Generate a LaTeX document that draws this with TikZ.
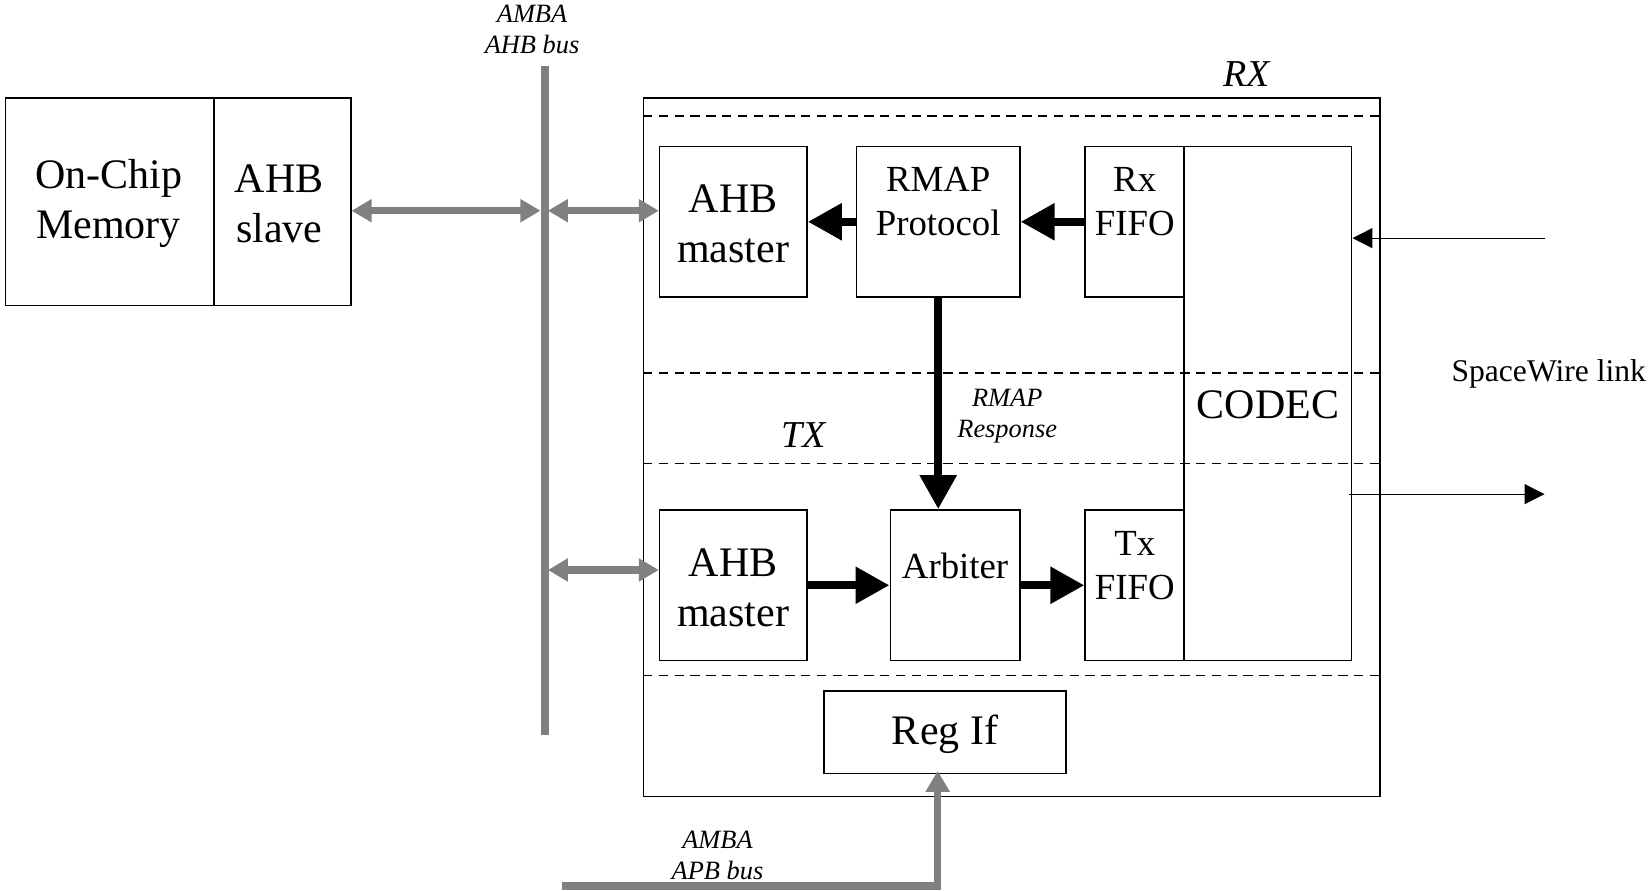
\documentclass[tikz,border=0pt]{standalone}
\usepackage{fontspec}
\setmainfont{Liberation Serif}
\usetikzlibrary{arrows.meta,fit,calc}
\definecolor{busgray}{RGB}{128,128,128}
\begin{document}
\begin{tikzpicture}[x=0.5268pt,y=-0.5268pt,
  box/.style={draw, line width=0.75pt, inner sep=0pt},
  bigtxt/.style={font=\fontsize{21}{25}\selectfont, align=center},
  midtxt/.style={font=\fontsize{18.4}{22}\selectfont, align=center},
  smallit/.style={font=\fontsize{13.2}{15.8}\selectfont\itshape, align=center},
  rxtx/.style={font=\fontsize{19}{22}\selectfont\itshape},
  sepline/.style={dash pattern=on 4.7pt off 3.2pt, line width=0.7pt},
  blackarrow/.style={line width=4.2pt, -{Triangle[length=17pt,width=17.5pt]}},
  graydbl/.style={draw=busgray, line width=3.7pt, {Triangle[length=10pt,width=11pt]}-{Triangle[length=10pt,width=11pt]}},
  grayarrow/.style={draw=busgray, line width=3.7pt, -{Triangle[length=10.5pt,width=11.6pt]}},
  thinarrow/.style={line width=0.6pt, -{Triangle[length=10pt,width=10pt]}},
]
\useasboundingbox (0,0) rectangle (1568,845);

% left memory block
\node[box, fit={(5,93)(203,290)}] (ocm) {};
\node[box, fit={(203,93)(333,290)}] (slave) {};
\node[bigtxt] at ($(ocm.center)+(-1,2)$) {On-Chip\\Memory};
\node[bigtxt] at ($(slave.center)+(-3,2)$) {AHB\\slave};

% AHB bus
\coordinate (busT) at (517,63);
\coordinate (busB) at (517,698);
\draw[busgray, line width=3.9pt] (busT) -- (busB);
\node[smallit] at (505,28) {AMBA\\AHB bus};

% main block
\node[box, fit={(611,93)(1310,756)}] (spw) {};
\node[rxtx] at (1183,70) {RX};
\node[rxtx] at (763,413) {TX};

\draw[sepline] (spw.west |- 0,110) -- (spw.east |- 0,110);
\draw[sepline] (spw.west |- 0,354) -- (spw.east |- 0,354);
\draw[sepline] (spw.west |- 0,440) -- (spw.east |- 0,440);
\draw[sepline] (spw.west |- 0,641) -- (spw.east |- 0,641);

% inner blocks
\node[box, fit={(626,139)(766,282)}] (ahbm1) {};
\node[box, fit={(813,139)(968,282)}] (rmap) {};
\node[box, fit={(1030,139)(1124,282)}] (rxf) {};
\node[box, fit={(1124,139)(1283,627)}] (codec) {};
\node[box, fit={(626,484)(766,627)}] (ahbm2) {};
\node[box, fit={(845,484)(968,627)}] (arb) {};
\node[box, fit={(1030,484)(1124,627)}] (txf) {};
\node[box, fit={(782,656)(1012,734)}] (regif) {};

\node[bigtxt] at ($(ahbm1.center)+(0,2)$) {AHB\\master};
\node[bigtxt] at ($(ahbm2.center)+(0,2)$) {AHB\\master};
\node[bigtxt] at ($(codec.center)+(0,1)$) {CODEC};
\node[bigtxt] at ($(regif.center)+(0,2)$) {Reg If};
\node[midtxt] at ($(rmap.center)+(0,-19)$) {RMAP\\Protocol};
\node[midtxt] at ($(rxf.center)+(0,-19)$) {Rx\\FIFO};
\node[midtxt] at ($(arb.center)+(0,-18)$) {Arbiter};
\node[midtxt] at ($(txf.center)+(0,-19)$) {Tx\\FIFO};

% black data arrows
\draw[blackarrow] (rxf.west) -- (rmap.east);
\draw[blackarrow] (rmap.west) -- (ahbm1.east);
\draw[blackarrow] (rmap.south) -- (rmap.south |- arb.north);
\draw[blackarrow] (ahbm2.east) -- (arb.west);
\draw[blackarrow] (arb.east) -- (txf.west);
\node[smallit] at (956,395) {RMAP\\Response};

% gray bus connections
\coordinate (busL1) at (513,200);
\coordinate (busR1) at (520,200);
\coordinate (busR2) at (520,541);
\draw[graydbl] (slave.east |- busL1) -- (busL1);
\draw[graydbl] (busR1) -- (ahbm1.west |- busR1);
\draw[graydbl] (busR2) -- (ahbm2.west |- busR2);

% APB bus
\coordinate (apb) at (533,841);
\draw[grayarrow] (apb) -| ($(regif.south)+(-7,-3)$);
\node[smallit] at (681,812) {AMBA\\APB bus};

% SpaceWire link
\coordinate (swin) at (1466,226);
\coordinate (swout) at (1466,469);
\draw[thinarrow] (swin) -- (codec.east |- swin);
\draw[thinarrow] ($(codec.east |- swout)+(-3,0)$) -- (swout);
\node[font=\fontsize{15.8}{18}\selectfont] at (1470,355) {SpaceWire link};
\end{tikzpicture}
\end{document}
